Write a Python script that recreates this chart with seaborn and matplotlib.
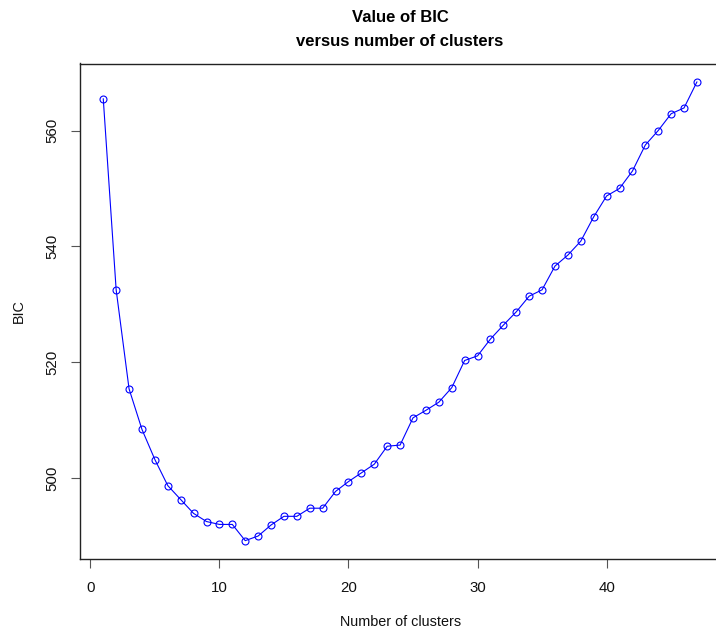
import numpy as np
import pandas as pd
import matplotlib
matplotlib.use('Agg')
import matplotlib.pyplot as plt
import seaborn as sns

# values
n_clusters = list(range(1, 48))
bic = [565.5, 532.5, 515.4, 508.4, 503.2, 498.7, 496.3, 493.9, 492.5, 492.0,
       492.0, 489.2, 490.0, 491.9, 493.4, 493.4, 494.8, 494.8, 497.7, 499.4,
       500.9, 502.4, 505.5, 505.7, 510.4, 511.7, 513.1, 515.6, 520.3, 521.1,
       524.0, 526.4, 528.7, 531.4, 532.5, 536.6, 538.5, 540.9, 545.1, 548.7,
       550.0, 553.0, 557.5, 560.0, 562.9, 563.9, 568.4]
x_ticks = [0, 10, 20, 30, 40]
y_ticks = [500, 520, 540, 560]

df = pd.DataFrame({'clusters': n_clusters, 'BIC': bic})

sns.set_style('ticks')
plt.rcParams['font.family'] = ['Liberation Sans', 'DejaVu Sans']

fig = plt.figure(figsize=(7.16, 6.38), dpi=100)
# R style plot region (right edge cut off like the reference)
ax = fig.add_axes([79.5 / 716, 79 / 638, 641.2 / 716, 495.5 / 638])

sns.lineplot(data=df, x='clusters', y='BIC', ax=ax, color='blue', linewidth=0.8,
             marker='o', markersize=5, markerfacecolor='none',
             markeredgecolor='blue', markeredgewidth=0.8)

# R adds 4% on each side
span_x = max(n_clusters) - min(n_clusters)
span_y = max(bic) - min(bic)
ax.set_xlim(min(n_clusters) - 0.04 * span_x, max(n_clusters) + 0.04 * span_x)
ax.set_ylim(min(bic) - 0.04 * span_y, max(bic) + 0.04 * span_y)

ax.set_xticks(x_ticks)
ax.set_yticks(y_ticks)
ax.tick_params(axis='both', direction='out', length=6.5, width=0.8,
               color='#555555', labelsize=10.8, labelcolor='#111111')
ax.tick_params(axis='x', pad=9)
ax.tick_params(axis='y', pad=8)
for lab in ax.get_yticklabels():
    lab.set_rotation(90)
    lab.set_va('center')

for sp in ax.spines.values():
    sp.set_color('#222222')
    sp.set_linewidth(1.0)

ax.set_xlabel('Number of clusters', fontsize=10.4, color='#111111', labelpad=15)
ax.set_ylabel('BIC', fontsize=10.4, color='#111111', labelpad=14)

fig.text(400 / 716, 1 - 18 / 638, 'Value of BIC', ha='center', va='center',
         fontsize=12, fontweight='bold', color='black')
fig.text(400 / 716, 1 - 41 / 638, 'versus number of clusters', ha='center',
         va='center', fontsize=12, fontweight='bold', color='black')

fig.savefig('out.png', dpi=100)
